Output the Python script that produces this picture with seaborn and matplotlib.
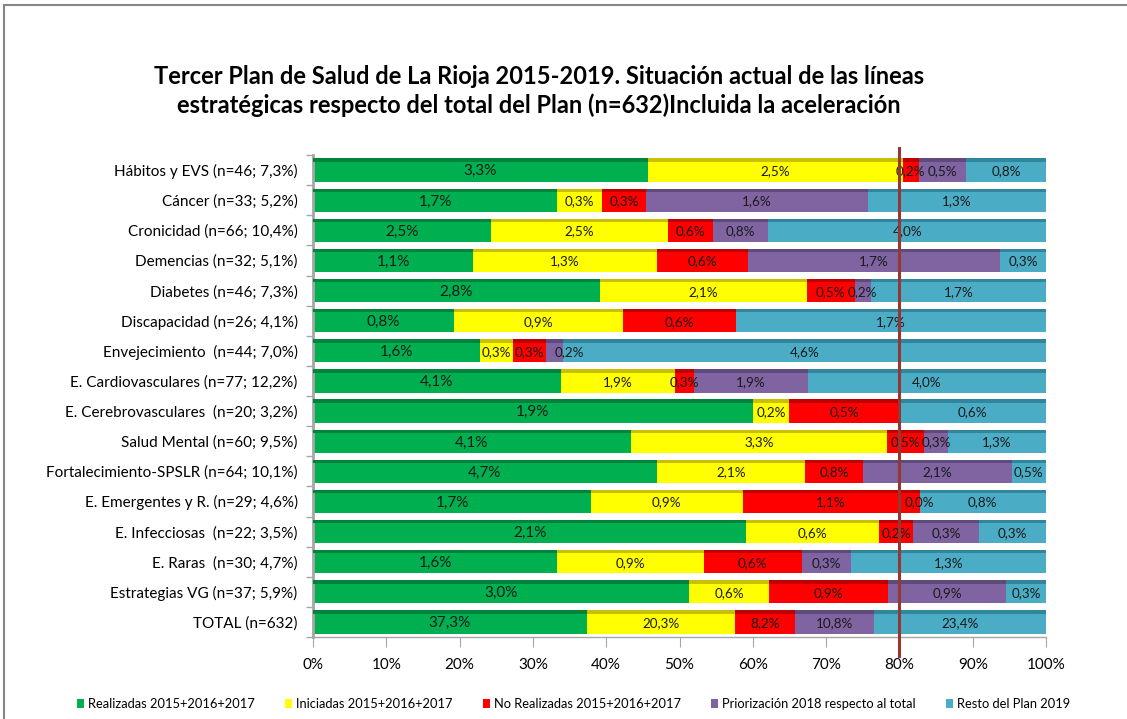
import numpy as np
import pandas as pd
import seaborn as sns
import matplotlib.pyplot as plt
from matplotlib.patches import Patch, Rectangle

TOTAL_N = 632

categories = [
    "Hábitos y EVS (n=46; 7,3%)",
    "Cáncer (n=33; 5,2%)",
    "Cronicidad (n=66; 10,4%)",
    "Demencias (n=32; 5,1%)",
    "Diabetes (n=46; 7,3%)",
    "Discapacidad (n=26; 4,1%)",
    "Envejecimiento  (n=44; 7,0%)",
    "E. Cardiovasculares (n=77; 12,2%)",
    "E. Cerebrovasculares  (n=20; 3,2%)",
    "Salud Mental (n=60; 9,5%)",
    "Fortalecimiento-SPSLR (n=64; 10,1%)",
    "E. Emergentes y R. (n=29; 4,6%)",
    "E. Infecciosas  (n=22; 3,5%)",
    "E. Raras  (n=30; 4,7%)",
    "Estrategias VG (n=37; 5,9%)",
    "TOTAL (n=632)",
]
n_lines = [46, 33, 66, 32, 46, 26, 44, 77, 20, 60, 64, 29, 22, 30, 37, 632]

# number of lines per state (NaN = no value / no label)
realizadas = [21, 11, 16, 7, 18, 5, 10, 26, 12, 26, 30, 11, 13, 10, 19, 236]
iniciadas = [16, 2, 16, 8, 13, 6, 2, 12, 1, 21, 13, 6, 4, 6, 4, 128]
no_realizadas = [1, 2, 4, 4, 3, 4, 2, 2, 3, 3, 5, 7, 1, 4, 6, 52]
priorizacion = [3, 10, 5, 11, 1, np.nan, 1, 12, np.nan, 2, 13, 0, 2, 2, 6, 68]
resto = [5, 8, 25, 2, 11, 11, 29, 25, 4, 8, 3, 5, 2, 8, 2, 148]

series = ["Realizadas 2015+2016+2017", "Iniciadas 2015+2016+2017",
          "No Realizadas 2015+2016+2017", "Priorización 2018 respecto al total",
          "Resto del Plan 2019"]
colors = ["#00B050", "#FFFF00", "#FF0000", "#8064A2", "#4BACC6"]
top_colors = ["#00843C", "#C8C000", "#C00000", "#5F4A7C", "#31859C"]

# labels nudged sideways in the original (row, series) -> shift in %
label_nudge = {(6, 3): 2.0}

counts = pd.DataFrame(
    dict(zip(series, [realizadas, iniciadas, no_realizadas, priorizacion, resto])),
    index=categories)
pct = counts.fillna(0).div(n_lines, axis=0) * 100
cum = pct.cumsum(axis=1)
start = cum - pct

FONT = ["Lato", "DejaVu Sans"]
plt.rcParams["font.family"] = FONT

fig = plt.figure(figsize=(11.27, 7.19), dpi=100)
ax = fig.add_axes([313 / 1127, 1 - 637 / 719, 733 / 1127, 482 / 719])

bar_h = 0.77
plot_df = cum.reset_index().rename(columns={"index": "cat"})
for s, c in reversed(list(zip(series, colors))):
    sns.barplot(data=plot_df, x=s, y="cat", order=categories, color=c,
                width=bar_h, linewidth=0, saturation=1, ax=ax, orient="h")

# darker top strip (3D look)
ypos = np.arange(len(categories))
strip = 0.11
for s, tc in zip(series, top_colors):
    ax.barh(ypos - bar_h / 2 + strip / 2, pct[s].values, left=start[s].values,
            height=strip, color=tc, linewidth=0, zorder=3)

# data labels: share of the whole plan
for j, s in enumerate(series):
    for i, cat in enumerate(categories):
        v = counts.loc[cat, s]
        if pd.isna(v):
            continue
        lab = f"{v / TOTAL_N * 100:.1f}".replace(".", ",") + "%"
        x = start.loc[cat, s] + pct.loc[cat, s] / 2 + label_nudge.get((i, j), 0)
        ax.text(x, i + 0.04, lab, ha="center", va="center",
                fontsize=11 if j == 0 else 9.7, color="#1a1a1a", zorder=4)

ax.axvline(80, color="#953735", lw=2.2, zorder=5, ymin=-0.04, ymax=1.015,
           clip_on=False)

ax.set_xlim(0, 100)
ax.set_ylim(len(categories) - 0.5, -0.5)
ax.set_xticks(np.arange(0, 101, 10))
ax.set_xticklabels([f"{t}%" for t in range(0, 101, 10)], fontsize=11)
ax.set_xlabel("")
ax.set_ylabel("")
ax.set_yticks(ypos, minor=True)
ax.set_yticks(np.arange(-0.5, len(categories), 1), minor=False)
ax.set_yticklabels([], minor=False)
ax.set_yticklabels(categories, minor=True)
ax.tick_params(axis="y", which="major", length=5, color="#a6a6a6", width=1)
ax.tick_params(axis="y", which="minor", length=0, labelsize=11, pad=11)
ax.tick_params(axis="x", length=7, color="#a6a6a6", pad=8)
for sp in ["top", "right"]:
    ax.spines[sp].set_visible(False)
ax.spines["left"].set_color("#a6a6a6")
ax.spines["left"].set_linewidth(2)
ax.spines["bottom"].set_color("#a6a6a6")
ax.spines["bottom"].set_linewidth(1)
ax.set_facecolor("white")

fig.text(0.478, 1 - 91 / 719,
         "Tercer Plan de Salud de La Rioja 2015-2019. Situación actual de las líneas\n"
         "estratégicas respecto del total del Plan (n=632)Incluida la aceleración",
         ha="center", va="center", fontsize=17, fontweight="bold",
         linespacing=1.3)

handles = [Patch(facecolor=c, edgecolor="none") for c in colors]
fig.legend(handles, series, loc="center", bbox_to_anchor=(0.509, 1 - 704 / 719),
           ncol=5, frameon=False, fontsize=9.3, handlelength=0.55,
           handleheight=0.8, handletextpad=0.3, columnspacing=2.35)

fig.patches.append(Rectangle((4 / 1127, -0.1), 1.2, 1 - 5 / 719 + 0.1,
                             transform=fig.transFigure, fill=False,
                             edgecolor="#868686", lw=1.5))

fig.savefig("out.png", dpi=100)
